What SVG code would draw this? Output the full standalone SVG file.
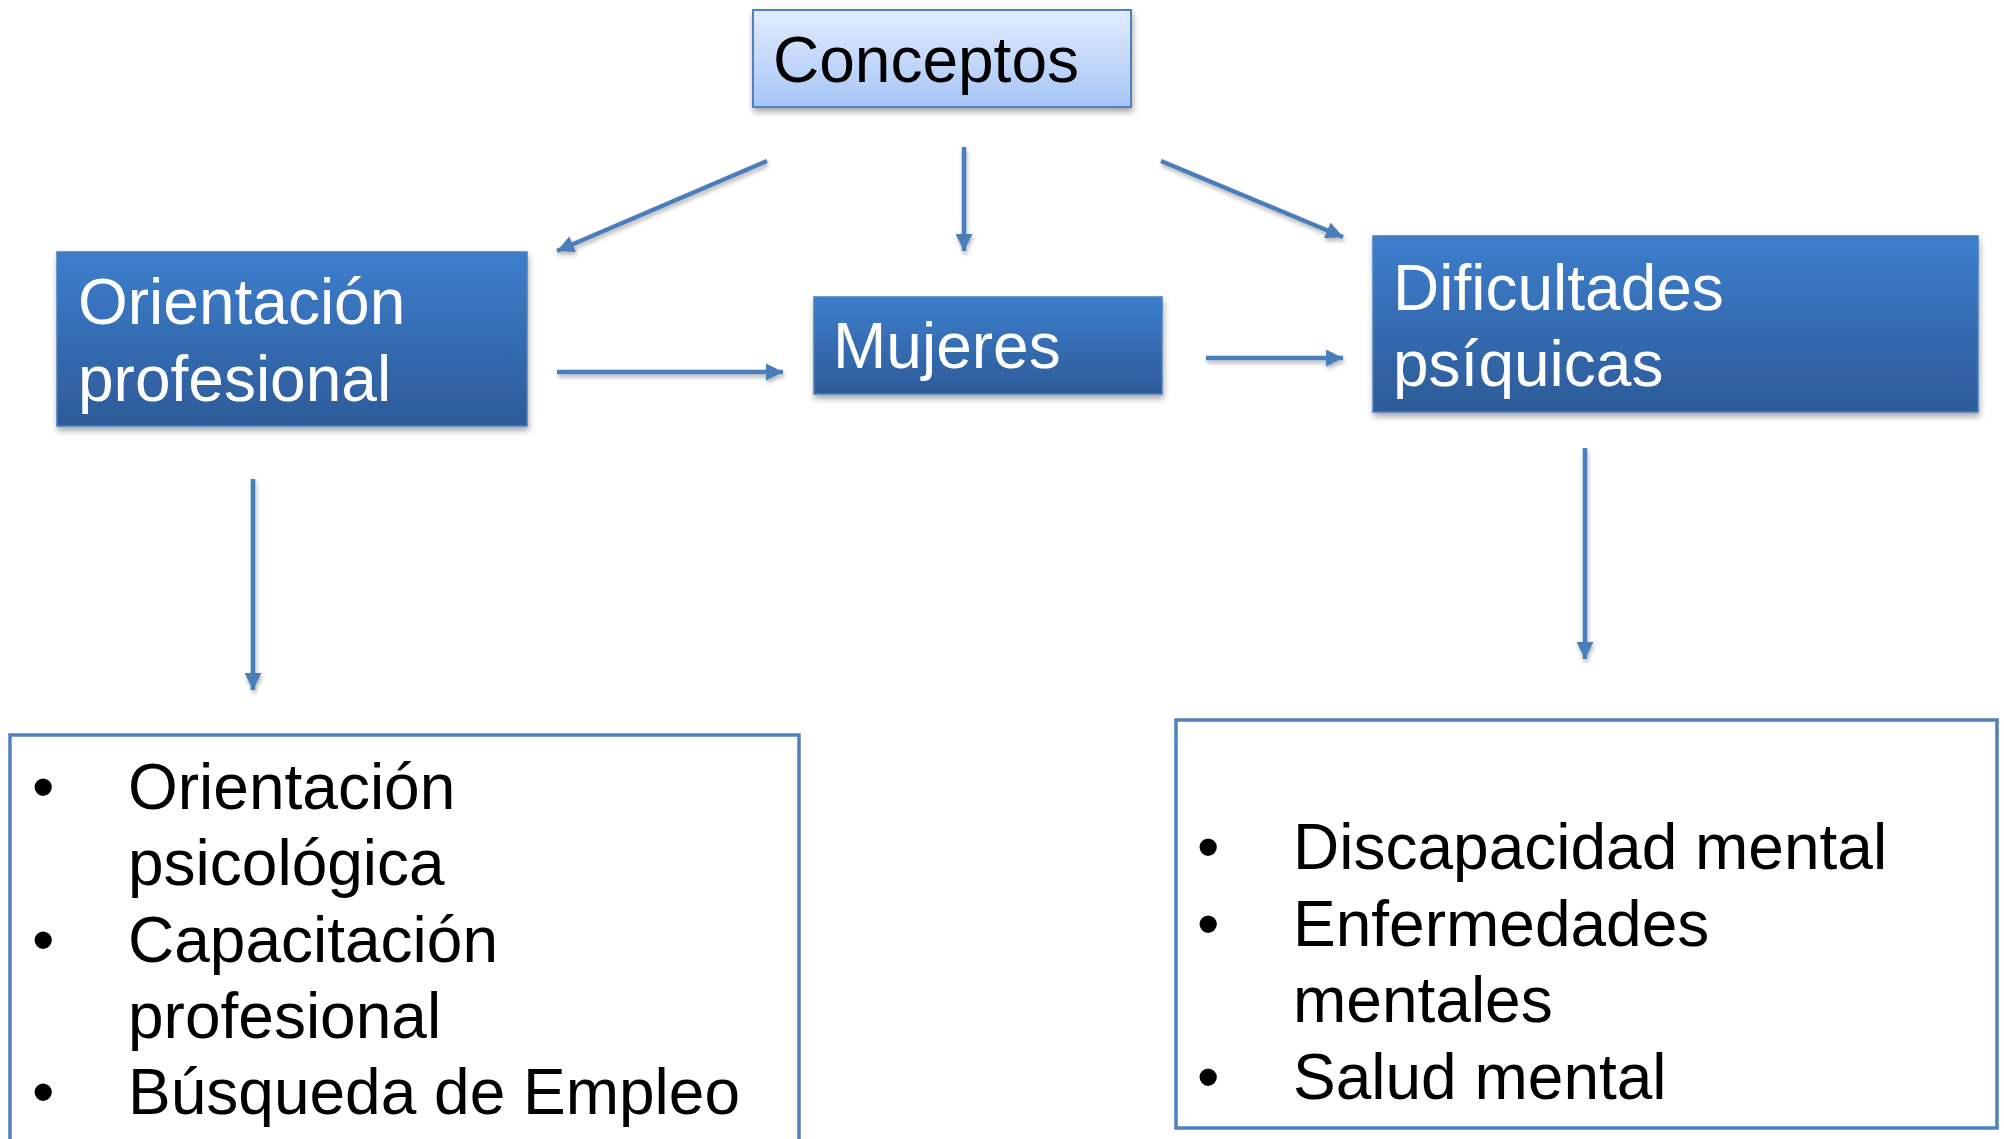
<svg xmlns="http://www.w3.org/2000/svg" width="2004" height="1139" viewBox="0 0 2004 1139">
<defs>
<linearGradient id="gLight" x1="0" y1="0" x2="0" y2="1">
<stop offset="0" stop-color="#e2ecfd"/>
<stop offset="1" stop-color="#a6c5f7"/>
</linearGradient>
<linearGradient id="gDark" x1="0" y1="0" x2="0" y2="1">
<stop offset="0" stop-color="#3d7ecd"/>
<stop offset="1" stop-color="#2d5b98"/>
</linearGradient>
<filter id="sh" x="-10%" y="-10%" width="120%" height="130%">
<feDropShadow dx="1" dy="4" stdDeviation="3" flood-color="#000" flood-opacity="0.35"/>
</filter>
<filter id="shl" x="-10%" y="-10%" width="120%" height="120%" filterUnits="userSpaceOnUse">
<feDropShadow dx="1" dy="3" stdDeviation="2" flood-color="#000" flood-opacity="0.3"/>
</filter>
<marker id="ah" viewBox="0 0 10 10" refX="10" refY="5" markerWidth="18" markerHeight="17" markerUnits="userSpaceOnUse" orient="auto">
<path d="M0,0 L10,5 L0,10 z" fill="#4a7ebb"/>
</marker>
</defs>
<style>
.t{font-family:"Liberation Sans",Arial,sans-serif;font-size:64px}
.w{fill:#ffffff}
.k{fill:#000000}
.dark{fill:url(#gDark);stroke:#4a7ebb;stroke-width:1.5;filter:url(#sh)}
.light{fill:url(#gLight);stroke:#4f81bd;stroke-width:2;filter:url(#sh)}
.list{fill:#ffffff;stroke:#4f81bd;stroke-width:3.5}
.c{stroke:#4a7ebb;stroke-width:4.5;fill:none;marker-end:url(#ah)}
</style>
<rect width="2004" height="1139" fill="#ffffff"/>
<g id="connectors" filter="url(#shl)">
<line class="c" x1="767" y1="161" x2="557" y2="251"/>
<line class="c" x1="964" y1="147" x2="964" y2="251"/>
<line class="c" x1="1161" y1="161" x2="1343" y2="237"/>
<line class="c" x1="557" y1="372" x2="783" y2="372"/>
<line class="c" x1="1206" y1="358" x2="1343" y2="358"/>
<line class="c" x1="253" y1="479" x2="253" y2="690"/>
<line class="c" x1="1585" y1="448" x2="1585" y2="659"/>
</g>
<g id="conceptos">
<rect class="light" x="753" y="10" width="378" height="97"/>
<text class="t k" x="773" y="82">Conceptos</text>
</g>
<g id="orientacion">
<rect class="dark" x="57" y="252" width="470" height="174"/>
<text class="t w" x="78" y="324">Orientación</text>
<text class="t w" x="78" y="401">profesional</text>
</g>
<g id="mujeres">
<rect class="dark" x="814" y="297" width="348" height="97"/>
<text class="t w" x="833" y="368">Mujeres</text>
</g>
<g id="dificultades">
<rect class="dark" x="1373" y="236" width="605" height="176"/>
<text class="t w" x="1393" y="310">Dificultades</text>
<text class="t w" x="1393" y="386">psíquicas</text>
</g>
<g id="lista-orientacion">
<rect class="list" x="10" y="735" width="789" height="420"/>
<text class="t k" x="32" y="809">•</text>
<text class="t k" x="128" y="809">Orientación</text>
<text class="t k" x="128" y="885">psicológica</text>
<text class="t k" x="32" y="962">•</text>
<text class="t k" x="128" y="962">Capacitación</text>
<text class="t k" x="128" y="1038">profesional</text>
<text class="t k" x="32" y="1114">•</text>
<text class="t k" x="128" y="1114">Búsqueda de Empleo</text>
</g>
<g id="lista-dificultades">
<rect class="list" x="1176" y="720" width="821" height="408"/>
<text class="t k" x="1197" y="869">•</text>
<text class="t k" x="1293" y="869">Discapacidad mental</text>
<text class="t k" x="1197" y="946">•</text>
<text class="t k" x="1293" y="946">Enfermedades</text>
<text class="t k" x="1293" y="1022">mentales</text>
<text class="t k" x="1197" y="1099">•</text>
<text class="t k" x="1293" y="1099">Salud mental</text>
</g>
</svg>
